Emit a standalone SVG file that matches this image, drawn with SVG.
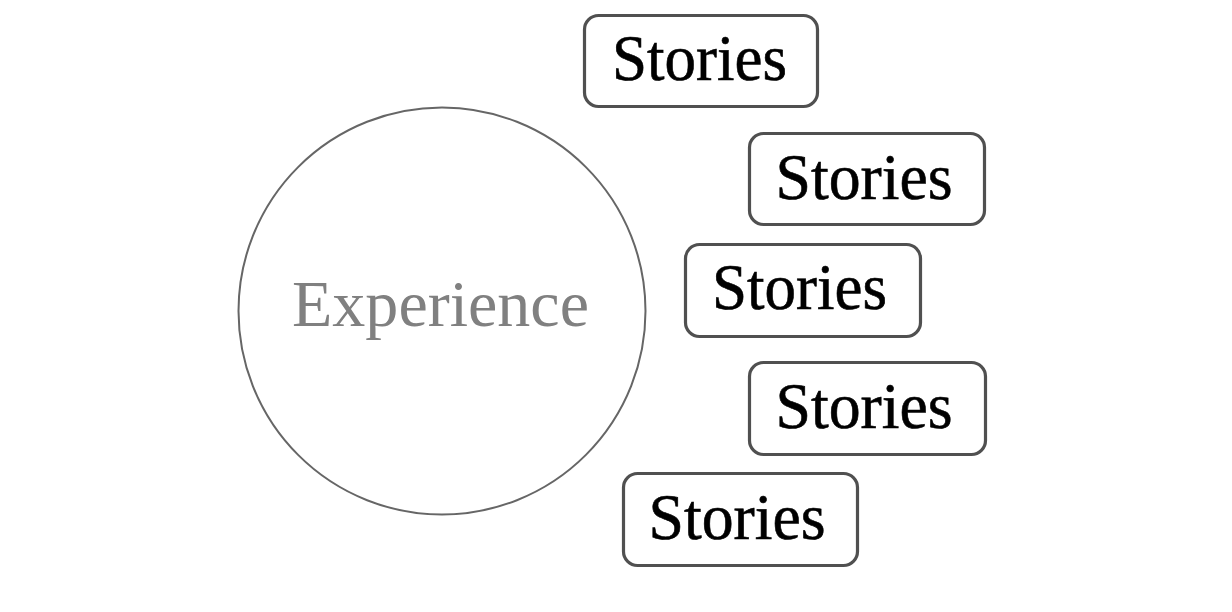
<svg xmlns="http://www.w3.org/2000/svg" width="1232" height="612" viewBox="0 0 1232 612">
<style>
.box{fill:#fff;stroke:#505050;stroke-width:3.2}
.lbl{font-family:"Liberation Serif","DejaVu Serif",serif;font-size:65px;fill:#000;stroke:#000;stroke-width:0.6;text-anchor:middle}
.exp{font-family:"Liberation Serif","DejaVu Serif",serif;font-size:65px;fill:#808080;text-anchor:middle}
</style>
<rect width="1232" height="612" fill="#fff"/>
<g id="experience">
<circle cx="442" cy="311" r="203.5" fill="#fff" stroke="#666" stroke-width="2"/>
<text class="exp" x="440.5" y="326" textLength="297" lengthAdjust="spacingAndGlyphs">Experience</text>
</g>
<g id="connectors"></g>
<g id="stories1">
<rect class="box" x="584.5" y="15.5" width="233" height="91" rx="14"/>
<text class="lbl" x="699.5" y="80" textLength="175" lengthAdjust="spacingAndGlyphs">Stories</text>
</g>
<g id="stories2">
<rect class="box" x="749.5" y="133.5" width="235" height="91" rx="14"/>
<text class="lbl" x="864" y="199" textLength="177" lengthAdjust="spacingAndGlyphs">Stories</text>
</g>
<g id="stories3">
<rect class="box" x="685.5" y="244.5" width="235" height="92" rx="14"/>
<text class="lbl" x="799.5" y="309" textLength="175" lengthAdjust="spacingAndGlyphs">Stories</text>
</g>
<g id="stories4">
<rect class="box" x="749.5" y="362.5" width="236" height="92" rx="14"/>
<text class="lbl" x="864" y="428" textLength="177" lengthAdjust="spacingAndGlyphs">Stories</text>
</g>
<g id="stories5">
<rect class="box" x="623.5" y="473.5" width="234" height="92" rx="14"/>
<text class="lbl" x="737" y="539" textLength="177" lengthAdjust="spacingAndGlyphs">Stories</text>
</g>
</svg>
